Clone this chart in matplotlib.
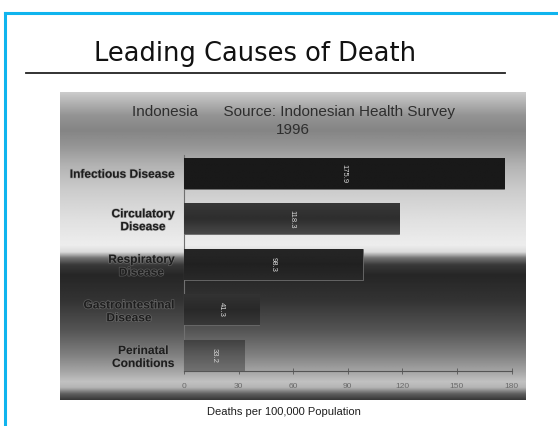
import numpy as np
import matplotlib
matplotlib.use('Agg')
import matplotlib.pyplot as plt
import matplotlib.patheffects as pe
from matplotlib.lines import Line2D

# Data
causes = ['Infectious Disease', 'Circulatory\nDisease', 'Respiratory\nDisease',
          'Gastrointestinal\nDisease', 'Perinatal\nConditions']
deaths = [175.9, 118.3, 98.3, 41.3, 33.2]
x_ticks = [0, 30, 60, 90, 120, 150, 180]

# Shading of each bar, top edge -> middle -> bottom edge (grey levels)
bar_shades = [(0.10, 0.10, 0.10), (0.28, 0.18, 0.22), (0.16, 0.13, 0.15),
              (0.22, 0.16, 0.20), (0.44, 0.36, 0.26)]

W, H = 558, 426
fig = plt.figure(figsize=(W / 100, H / 100), dpi=100)
fig.patch.set_facecolor('white')

# Slide border (cyan) and title with underline
fig.add_artist(Line2D([5 / W, 1], [1 - 13 / H, 1 - 13 / H], color='#10b4ee', lw=2.2))
fig.add_artist(Line2D([5 / W, 5 / W], [0, 1 - 13 / H], color='#10b4ee', lw=2.2))
fig.text(255 / W, 1 - 54 / H, 'Leading Causes of Death', ha='center', va='center',
         fontsize=18.5, family='DejaVu Sans', color='#111111')
fig.add_artist(Line2D([26 / W, 505 / W], [1 - 73 / H, 1 - 73 / H], color='#222222', lw=1.3))

# Panel background with vertical grey gradient
panel = fig.add_axes([60 / W, 1 - 400 / H, 466 / W, 308 / H])
panel.set_axis_off()
stops_px = [92, 100, 115, 130, 145, 165, 190, 220, 245, 252, 258, 265, 275, 300, 330,
            355, 372, 382, 388, 394, 400]
stops_g = [0.80, 0.72, 0.58, 0.52, 0.58, 0.70, 0.80, 0.88, 0.93, 0.86, 0.45, 0.22, 0.15,
           0.20, 0.33, 0.50, 0.65, 0.76, 0.70, 0.38, 0.22]
yy = np.linspace(92, 400, 400)
grad = np.interp(yy, stops_px, stops_g)[:, None]
panel.imshow(np.repeat(grad, 2, axis=1), cmap='gray', vmin=0, vmax=1, aspect='auto',
             extent=[0, 1, 1, 0], interpolation='bilinear')
panel.set_xlim(0, 1)
panel.set_ylim(1, 0)

fig.text(293 / W, 1 - 121 / H, 'Indonesia      Source: Indonesian Health Survey\n1996',
         ha='center', va='center', fontsize=11, family='Liberation Sans',
         color='#2e2e2e', multialignment='center', linespacing=1.3)

# Bar chart
ax = fig.add_axes([184 / W, 1 - 371 / H, 327.5 / W, 216 / H])
ax.patch.set_alpha(0)
y = np.arange(len(causes))
bars = ax.barh(y, deaths, height=0.68, color='#1a1a1a', edgecolor='#707070', lw=0.6, zorder=2)

for bar, shade in zip(bars, bar_shades):
    x0, y0 = bar.get_x(), bar.get_y()
    w, h = bar.get_width(), bar.get_height()
    t = np.linspace(0, 1, 50)
    g = np.interp(t, [0, 0.5, 1], shade)[:, None]
    ax.imshow(np.repeat(g, 2, axis=1), cmap='gray', vmin=0, vmax=1, aspect='auto',
              extent=[x0, x0 + w, y0, y0 + h], interpolation='bilinear', zorder=3)
    ax.text(x0 + w / 2, y0 + h / 2, f'{w:.1f}', rotation=-90, ha='center', va='center',
            fontsize=5.5, family='Liberation Sans', color='#d8d8d8', zorder=4)

ax.set_xlim(0, 180)
ax.set_ylim(len(causes) - 1 + 0.34, -0.4)
ax.set_xticks(x_ticks)
ax.set_yticks(y)
ax.set_yticklabels(causes, fontsize=8.6, fontweight='bold', family='Liberation Sans',
                   color='#1e1e1e', multialignment='center', linespacing=1.1)
for lbl in ax.get_yticklabels():
    lbl.set_path_effects([pe.withStroke(linewidth=1.0, foreground='#8a8a8a', alpha=0.5)])
ax.tick_params(axis='y', length=0, pad=7)
ax.tick_params(axis='x', direction='inout', length=4, width=0.6, color='#555555',
               labelsize=6, labelcolor='#6a6a6a', pad=7)
for lbl in ax.get_xticklabels():
    lbl.set_family('Liberation Sans')
for s in ['top', 'right']:
    ax.spines[s].set_visible(False)
ax.spines['left'].set_color('#707070')
ax.spines['left'].set_linewidth(0.8)
ax.spines['bottom'].set_color('#555555')
ax.spines['bottom'].set_linewidth(0.8)

fig.text(284 / W, 1 - 412 / H, 'Deaths per 100,000 Population', ha='center', va='center',
         fontsize=8, family='Liberation Sans', color='#1e1e1e')

fig.savefig('out.png', dpi=100)
